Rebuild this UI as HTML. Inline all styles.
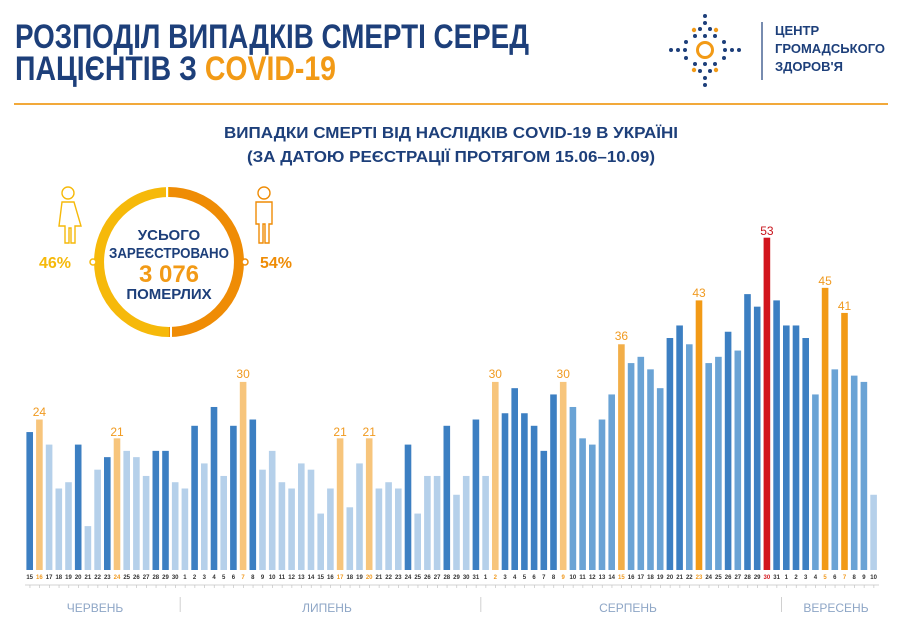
<!DOCTYPE html>
<html><head><meta charset="utf-8"><style>
html,body{margin:0;padding:0;background:#fff;}
svg{display:block;}
.t{font-family:"Liberation Sans",sans-serif;font-weight:bold;}
.d{fill:#3c7fc2}.m{fill:#6aa3d5}.l{fill:#b5d0ea}.p{fill:#f7c57c}.o{fill:#f29a16}.r{fill:#d2151d}.q{fill:#f2ae48}
.dl{font-family:"Liberation Sans",sans-serif;font-size:6px;fill:#333;text-anchor:middle;font-weight:bold}
.dl.h{fill:#f09a20}.dl.rr{fill:#d2151d}
.vl{font-family:"Liberation Sans",sans-serif;font-size:12px;fill:#f09a20;text-anchor:middle}
</style></head><body>
<svg width="900" height="625" viewBox="0 0 900 625" xmlns="http://www.w3.org/2000/svg">
<rect width="900" height="625" fill="#fff"/>
<text class="t" x="15" y="48" font-size="34" fill="#1d3f7a" textLength="514" lengthAdjust="spacingAndGlyphs">РОЗПОДІЛ ВИПАДКІВ СМЕРТІ СЕРЕД</text>
<text class="t" x="15" y="80" font-size="34" fill="#1d3f7a" textLength="321" lengthAdjust="spacingAndGlyphs">ПАЦІЄНТІВ З <tspan fill="#f29a16">COVID-19</tspan></text>
<!-- logo -->
<g fill="#1d3f7a">
<circle cx="705" cy="16" r="2"/><circle cx="705" cy="23" r="2"/><circle cx="700" cy="29" r="2"/><circle cx="710" cy="29" r="2"/>
<circle cx="705" cy="36" r="2"/><circle cx="695" cy="36" r="2"/><circle cx="715" cy="36" r="2"/>
<circle cx="686" cy="42" r="2"/><circle cx="724" cy="42" r="2"/>
<circle cx="671" cy="50" r="2"/><circle cx="678" cy="50" r="2"/><circle cx="685" cy="50" r="2"/>
<circle cx="725" cy="50" r="2"/><circle cx="732" cy="50" r="2"/><circle cx="739" cy="50" r="2"/>
<circle cx="686" cy="58" r="2"/><circle cx="724" cy="58" r="2"/>
<circle cx="705" cy="64" r="2"/><circle cx="695" cy="64" r="2"/><circle cx="715" cy="64" r="2"/>
<circle cx="700" cy="71" r="2"/><circle cx="710" cy="71" r="2"/><circle cx="705" cy="78" r="2"/><circle cx="705" cy="85" r="2"/>
</g>
<g fill="#f29a16">
<circle cx="694" cy="30" r="2.2"/><circle cx="716" cy="30" r="2.2"/><circle cx="694" cy="70" r="2.2"/><circle cx="716" cy="70" r="2.2"/>
</g>
<circle cx="705" cy="50" r="7.5" fill="none" stroke="#f29a16" stroke-width="3"/>
<line x1="762" y1="22" x2="762" y2="80" stroke="#1d3f7a" stroke-width="1.2"/>
<text class="t" x="775" y="35" font-size="13" fill="#1d3f7a">ЦЕНТР</text>
<text class="t" x="775" y="53" font-size="13" fill="#1d3f7a" textLength="110" lengthAdjust="spacingAndGlyphs">ГРОМАДСЬКОГО</text>
<text class="t" x="775" y="71" font-size="13" fill="#1d3f7a">ЗДОРОВ'Я</text>
<line x1="14" y1="104" x2="888" y2="104" stroke="#f2a93a" stroke-width="2"/>
<text class="t" x="451" y="138" font-size="15.5" fill="#1d3f7a" text-anchor="middle" textLength="454" lengthAdjust="spacingAndGlyphs">ВИПАДКИ СМЕРТІ ВІД НАСЛІДКІВ COVID-19 В УКРАЇНІ</text>
<text class="t" x="451" y="162" font-size="15.5" fill="#1d3f7a" text-anchor="middle" textLength="408" lengthAdjust="spacingAndGlyphs">(ЗА ДАТОЮ РЕЄСТРАЦІЇ ПРОТЯГОМ 15.06–10.09)</text>
<!-- donut -->
<path d="M169,192 A70,70 0 0 0 169,332" fill="none" stroke="#f6b90a" stroke-width="10"/>
<path d="M169,192 A70,70 0 0 1 169,332" fill="none" stroke="#ef8c05" stroke-width="10"/>
<line x1="167" y1="184" x2="167" y2="198" stroke="#fff" stroke-width="2"/>
<line x1="171" y1="326" x2="171" y2="340" stroke="#fff" stroke-width="2"/>
<circle cx="93" cy="262" r="3" fill="#fff" stroke="#f6b90a" stroke-width="1.5"/>
<circle cx="245" cy="262" r="3" fill="#fff" stroke="#ef8c05" stroke-width="1.5"/>
<text class="t" x="169" y="240" font-size="15" fill="#1d3f7a" text-anchor="middle">УСЬОГО</text>
<text class="t" x="169" y="258" font-size="15" fill="#1d3f7a" text-anchor="middle" textLength="120" lengthAdjust="spacingAndGlyphs">ЗАРЕЄСТРОВАНО</text>
<text class="t" x="169" y="282" font-size="24" fill="#f29a16" text-anchor="middle">3 076</text>
<text class="t" x="169" y="299" font-size="15" fill="#1d3f7a" text-anchor="middle">ПОМЕРЛИХ</text>
<text class="t" x="55" y="268" font-size="16" fill="#f6b90a" text-anchor="middle">46%</text>
<text class="t" x="276" y="268" font-size="16" fill="#ef8c05" text-anchor="middle">54%</text>
<!-- female icon -->
<g fill="none" stroke="#f6b90a" stroke-width="1.4">
<circle cx="68" cy="193" r="6"/>
<path d="M62,202 h12 l7,24 h-6 v17 h-4 v-15 h-2 v15 h-4 v-17 h-6 z"/>
</g>
<!-- male icon -->
<g fill="none" stroke="#ef8c05" stroke-width="1.4">
<circle cx="264" cy="193" r="6"/>
<path d="M256,202 h16 v22 h-3 v19 h-4 v-19 h-2 v19 h-4 v-19 h-3 z"/>
</g>
<!-- bars -->
<g transform="translate(26.4,570) scale(9.7,-6.27)">
<rect class="d" x="0" width="0.68" height="22"/><rect class="p" x="1" width="0.68" height="24"/><rect class="l" x="2" width="0.68" height="20"/><rect class="l" x="3" width="0.68" height="13"/><rect class="l" x="4" width="0.68" height="14"/><rect class="d" x="5" width="0.68" height="20"/><rect class="l" x="6" width="0.68" height="7"/><rect class="l" x="7" width="0.68" height="16"/><rect class="d" x="8" width="0.68" height="18"/><rect class="p" x="9" width="0.68" height="21"/><rect class="l" x="10" width="0.68" height="19"/><rect class="l" x="11" width="0.68" height="18"/><rect class="l" x="12" width="0.68" height="15"/><rect class="d" x="13" width="0.68" height="19"/><rect class="d" x="14" width="0.68" height="19"/><rect class="l" x="15" width="0.68" height="14"/>
<rect class="l" x="16" width="0.68" height="13"/><rect class="d" x="17" width="0.68" height="23"/><rect class="l" x="18" width="0.68" height="17"/><rect class="d" x="19" width="0.68" height="26"/><rect class="l" x="20" width="0.68" height="15"/><rect class="d" x="21" width="0.68" height="23"/><rect class="p" x="22" width="0.68" height="30"/><rect class="d" x="23" width="0.68" height="24"/><rect class="l" x="24" width="0.68" height="16"/><rect class="l" x="25" width="0.68" height="19"/><rect class="l" x="26" width="0.68" height="14"/><rect class="l" x="27" width="0.68" height="13"/><rect class="l" x="28" width="0.68" height="17"/><rect class="l" x="29" width="0.68" height="16"/><rect class="l" x="30" width="0.68" height="9"/><rect class="l" x="31" width="0.68" height="13"/><rect class="p" x="32" width="0.68" height="21"/><rect class="l" x="33" width="0.68" height="10"/><rect class="l" x="34" width="0.68" height="17"/><rect class="p" x="35" width="0.68" height="21"/><rect class="l" x="36" width="0.68" height="13"/><rect class="l" x="37" width="0.68" height="14"/><rect class="l" x="38" width="0.68" height="13"/><rect class="d" x="39" width="0.68" height="20"/><rect class="l" x="40" width="0.68" height="9"/><rect class="l" x="41" width="0.68" height="15"/><rect class="l" x="42" width="0.68" height="15"/><rect class="d" x="43" width="0.68" height="23"/><rect class="l" x="44" width="0.68" height="12"/><rect class="l" x="45" width="0.68" height="15"/><rect class="d" x="46" width="0.68" height="24"/>
<rect class="l" x="47" width="0.68" height="15"/><rect class="p" x="48" width="0.68" height="30"/><rect class="d" x="49" width="0.68" height="25"/><rect class="d" x="50" width="0.68" height="29"/><rect class="d" x="51" width="0.68" height="25"/><rect class="d" x="52" width="0.68" height="23"/><rect class="d" x="53" width="0.68" height="19"/><rect class="d" x="54" width="0.68" height="28"/><rect class="p" x="55" width="0.68" height="30"/><rect class="m" x="56" width="0.68" height="26"/><rect class="m" x="57" width="0.68" height="21"/><rect class="m" x="58" width="0.68" height="20"/><rect class="m" x="59" width="0.68" height="24"/><rect class="m" x="60" width="0.68" height="28"/><rect class="q" x="61" width="0.68" height="36"/><rect class="m" x="62" width="0.68" height="33"/><rect class="m" x="63" width="0.68" height="34"/><rect class="m" x="64" width="0.68" height="32"/><rect class="m" x="65" width="0.68" height="29"/><rect class="d" x="66" width="0.68" height="37"/><rect class="d" x="67" width="0.68" height="39"/><rect class="m" x="68" width="0.68" height="36"/><rect class="o" x="69" width="0.68" height="43"/><rect class="m" x="70" width="0.68" height="33"/><rect class="m" x="71" width="0.68" height="34"/><rect class="d" x="72" width="0.68" height="38"/><rect class="m" x="73" width="0.68" height="35"/><rect class="d" x="74" width="0.68" height="44"/><rect class="d" x="75" width="0.68" height="42"/><rect class="r" x="76" width="0.68" height="53"/><rect class="d" x="77" width="0.68" height="43"/>
<rect class="d" x="78" width="0.68" height="39"/><rect class="d" x="79" width="0.68" height="39"/><rect class="d" x="80" width="0.68" height="37"/><rect class="m" x="81" width="0.68" height="28"/><rect class="o" x="82" width="0.68" height="45"/><rect class="m" x="83" width="0.68" height="32"/><rect class="o" x="84" width="0.68" height="41"/><rect class="m" x="85" width="0.68" height="31"/><rect class="m" x="86" width="0.68" height="30"/><rect class="l" x="87" width="0.68" height="12"/>
</g>
<!-- value labels -->
<text class="vl" x="39.4" y="416">24</text>
<text class="vl" x="117.0" y="436">21</text>
<text class="vl" x="243.1" y="378">30</text>
<text class="vl" x="340.1" y="436">21</text>
<text class="vl" x="369.2" y="436">21</text>
<text class="vl" x="495.3" y="378">30</text>
<text class="vl" x="563.2" y="378">30</text>
<text class="vl" x="621.4" y="340">36</text>
<text class="vl" x="699.0" y="297">43</text>
<text class="vl" x="766.9" y="235" style="fill:#c8141c">53</text>
<text class="vl" x="825.1" y="285">45</text>
<text class="vl" x="844.5" y="310">41</text>
<!-- day labels -->
<g>
<text class="dl" x="29.7" y="579">15</text><text class="dl h" x="39.4" y="579">16</text><text class="dl" x="49.1" y="579">17</text><text class="dl" x="58.8" y="579">18</text><text class="dl" x="68.5" y="579">19</text><text class="dl" x="78.2" y="579">20</text><text class="dl" x="87.9" y="579">21</text><text class="dl" x="97.6" y="579">22</text><text class="dl" x="107.3" y="579">23</text><text class="dl h" x="117.0" y="579">24</text><text class="dl" x="126.7" y="579">25</text><text class="dl" x="136.4" y="579">26</text><text class="dl" x="146.1" y="579">27</text><text class="dl" x="155.8" y="579">28</text><text class="dl" x="165.5" y="579">29</text><text class="dl" x="175.2" y="579">30</text>
<text class="dl" x="184.9" y="579">1</text><text class="dl" x="194.6" y="579">2</text><text class="dl" x="204.3" y="579">3</text><text class="dl" x="214.0" y="579">4</text><text class="dl" x="223.7" y="579">5</text><text class="dl" x="233.4" y="579">6</text><text class="dl h" x="243.1" y="579">7</text><text class="dl" x="252.8" y="579">8</text><text class="dl" x="262.5" y="579">9</text><text class="dl" x="272.2" y="579">10</text><text class="dl" x="281.9" y="579">11</text><text class="dl" x="291.6" y="579">12</text><text class="dl" x="301.3" y="579">13</text><text class="dl" x="311.0" y="579">14</text><text class="dl" x="320.7" y="579">15</text><text class="dl" x="330.4" y="579">16</text><text class="dl h" x="340.1" y="579">17</text><text class="dl" x="349.8" y="579">18</text><text class="dl" x="359.5" y="579">19</text><text class="dl h" x="369.2" y="579">20</text><text class="dl" x="378.9" y="579">21</text><text class="dl" x="388.6" y="579">22</text><text class="dl" x="398.3" y="579">23</text><text class="dl" x="408.0" y="579">24</text><text class="dl" x="417.7" y="579">25</text><text class="dl" x="427.4" y="579">26</text><text class="dl" x="437.1" y="579">27</text><text class="dl" x="446.8" y="579">28</text><text class="dl" x="456.5" y="579">29</text><text class="dl" x="466.2" y="579">30</text><text class="dl" x="475.9" y="579">31</text>
<text class="dl" x="485.6" y="579">1</text><text class="dl h" x="495.3" y="579">2</text><text class="dl" x="505.0" y="579">3</text><text class="dl" x="514.7" y="579">4</text><text class="dl" x="524.4" y="579">5</text><text class="dl" x="534.1" y="579">6</text><text class="dl" x="543.8" y="579">7</text><text class="dl" x="553.5" y="579">8</text><text class="dl h" x="563.2" y="579">9</text><text class="dl" x="572.9" y="579">10</text><text class="dl" x="582.6" y="579">11</text><text class="dl" x="592.3" y="579">12</text><text class="dl" x="602.0" y="579">13</text><text class="dl" x="611.7" y="579">14</text><text class="dl h" x="621.4" y="579">15</text><text class="dl" x="631.1" y="579">16</text><text class="dl" x="640.8" y="579">17</text><text class="dl" x="650.5" y="579">18</text><text class="dl" x="660.2" y="579">19</text><text class="dl" x="669.9" y="579">20</text><text class="dl" x="679.6" y="579">21</text><text class="dl" x="689.3" y="579">22</text><text class="dl h" x="699.0" y="579">23</text><text class="dl" x="708.7" y="579">24</text><text class="dl" x="718.4" y="579">25</text><text class="dl" x="728.1" y="579">26</text><text class="dl" x="737.8" y="579">27</text><text class="dl" x="747.5" y="579">28</text><text class="dl" x="757.2" y="579">29</text><text class="dl rr" x="766.9" y="579">30</text><text class="dl" x="776.6" y="579">31</text>
<text class="dl" x="786.3" y="579">1</text><text class="dl" x="796.0" y="579">2</text><text class="dl" x="805.7" y="579">3</text><text class="dl" x="815.4" y="579">4</text><text class="dl h" x="825.1" y="579">5</text><text class="dl" x="834.8" y="579">6</text><text class="dl h" x="844.5" y="579">7</text><text class="dl" x="854.2" y="579">8</text><text class="dl" x="863.9" y="579">9</text><text class="dl" x="873.6" y="579">10</text>
</g>
<!-- axis -->
<line x1="25" y1="585" x2="879" y2="585" stroke="#c4c4c4" stroke-width="0.8"/>
<line x1="25" y1="586.5" x2="879" y2="586.5" stroke="#c4c4c4" stroke-width="3" stroke-dasharray="0.7 9" stroke-dashoffset="-4.6"/>
<line x1="180.2" y1="597" x2="180.2" y2="612" stroke="#d0d0d0" stroke-width="1"/>
<line x1="480.8" y1="597" x2="480.8" y2="612" stroke="#d0d0d0" stroke-width="1"/>
<line x1="781.5" y1="597" x2="781.5" y2="612" stroke="#d0d0d0" stroke-width="1"/>
<g font-family="Liberation Sans, sans-serif" font-size="12" fill="#8ea6c6" text-anchor="middle">
<text x="95" y="612">ЧЕРВЕНЬ</text>
<text x="327" y="612">ЛИПЕНЬ</text>
<text x="628" y="612">СЕРПЕНЬ</text>
<text x="836" y="612">ВЕРЕСЕНЬ</text>
</g>
</svg>
</body></html>
